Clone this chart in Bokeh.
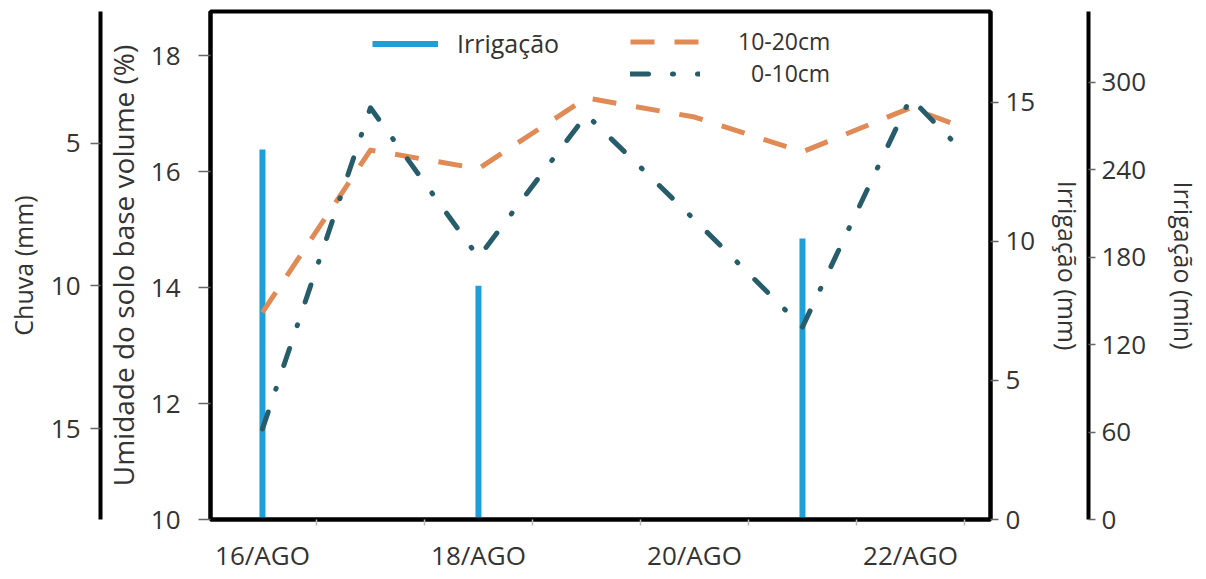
from bokeh.plotting import figure
from bokeh.models import Range1d, LinearAxis, FixedTicker, Legend, LegendItem, ColumnDataSource
from bokeh.embed import file_html
from bokeh.resources import INLINE

# ---- data ----
days = [16, 17, 18, 19, 20, 21, 22, 22.5]
umid_0_10 = [11.56, 17.10, 14.52, 16.98, 15.17, 13.32, 17.27, 16.32]
umid_10_20 = [13.57, 16.37, 16.05, 17.27, 16.94, 16.34, 17.10, 16.75]
irrig_days = [16, 18, 21]
irrig_mm = [13.3, 8.4, 10.1]
x_tick_days = [16, 18, 20, 22]
x_tick_labels = ["16/AGO", "18/AGO", "20/AGO", "22/AGO"]
x_minor_days = [16.5, 17.5, 18.5, 19.5, 20.5, 21.5, 22.5]
umid_ticks = [10, 12, 14, 16, 18]
chuva_ticks = [5, 10, 15]
mm_ticks = [0, 5, 10, 15]
min_ticks = [0, 60, 120, 180, 240, 300]

FONT = "Open Sans"
TXT = "#333333"

p = figure(width=1204, height=575, output_backend="svg", toolbar_location=None,
           x_range=Range1d(15.519, 22.741), y_range=Range1d(10, 18.76),
           min_border_left=210, min_border_right=214, min_border_top=11, min_border_bottom=54)
p.outline_line_color = "black"
p.outline_line_width = 4
p.outline_line_alpha = 1
p.grid.visible = False
p.background_fill_color = "white"
p.border_fill_color = "white"

p.extra_y_ranges = {
    "chuva": Range1d(18.17, 0.40),
    "mm": Range1d(0, 18.26),
    "min": Range1d(0, 348.5),
}


def style_axis(ax, tick_out=8, label_standoff=10, axis_standoff=10, label_size="25px"):
    ax.axis_line_color = "black"
    ax.axis_line_width = 4
    ax.major_tick_line_color = "#666666"
    ax.major_tick_line_width = 1.5
    ax.major_tick_in = 0
    ax.major_tick_out = tick_out
    ax.minor_tick_line_color = None
    ax.major_label_text_font = FONT
    ax.major_label_text_font_size = "26px"
    ax.major_label_text_color = TXT
    ax.major_label_standoff = label_standoff
    ax.axis_label_text_font = FONT
    ax.axis_label_text_font_size = label_size
    ax.axis_label_text_font_style = "normal"
    ax.axis_label_text_color = TXT
    ax.axis_label_standoff = axis_standoff


# x axis
xa = p.xaxis[0]
style_axis(xa, tick_out=0, label_standoff=11)
xa.ticker = FixedTicker(ticks=x_tick_days, minor_ticks=x_minor_days)
xa.major_label_overrides = {d: l for d, l in zip(x_tick_days, x_tick_labels)}
xa.major_tick_line_color = None
xa.minor_tick_line_color = "#bbbbbb"
xa.minor_tick_out = 6
xa.minor_tick_in = 0
xa.minor_tick_line_width = 1.5

# left: soil moisture
ya = p.yaxis[0]
style_axis(ya, tick_out=12, label_standoff=18, axis_standoff=6, label_size="28px")
ya.ticker = FixedTicker(ticks=umid_ticks)
ya.axis_label = "Umidade do solo base volume (%)"

# far left: rain
chuva_axis = LinearAxis(y_range_name="chuva", axis_label="Chuva (mm)")
style_axis(chuva_axis, tick_out=10, label_standoff=10, axis_standoff=8)
chuva_axis.ticker = FixedTicker(ticks=chuva_ticks)
p.add_layout(chuva_axis, "left")

# right: irrigation mm
mm_axis = LinearAxis(y_range_name="mm", axis_label="Irrigação (mm)")
style_axis(mm_axis, tick_out=8, label_standoff=7, axis_standoff=13)
mm_axis.ticker = FixedTicker(ticks=mm_ticks)
p.add_layout(mm_axis, "right")

# far right: irrigation minutes
min_axis = LinearAxis(y_range_name="min", axis_label="Irrigação (min)")
style_axis(min_axis, tick_out=7, label_standoff=6, axis_standoff=18)
min_axis.ticker = FixedTicker(ticks=min_ticks)
p.add_layout(min_axis, "right")

# irrigation bars
bars_src = ColumnDataSource(dict(x=irrig_days, top=irrig_mm, bottom=[0] * len(irrig_mm)))
bars = p.segment(x0="x", y0="bottom", x1="x", y1="top", source=bars_src,
                 y_range_name="mm", line_color="#1f9fd6", line_width=6)

src = ColumnDataSource(dict(day=days, a=umid_10_20, b=umid_0_10))
l1020 = p.line("day", "a", source=src, line_color="#e08a55", line_width=5,
               line_dash="24 20", line_join="round")
l010 = p.line("day", "b", source=src, line_color="#275c6b", line_width=5,
              line_dash="18 24 1 24", line_cap="round", line_join="round")

legends = [
    (Legend(items=[LegendItem(label="Irrigação", renderers=[bars])], location=(162, 459)), 66, 19, "25px"),
    (Legend(items=[LegendItem(label="10-20cm", renderers=[l1020])], location=(420, 462)), 70, 38, "23px"),
    (Legend(items=[LegendItem(label="0-10cm", renderers=[l010])], location=(420, 430)), 70, 51, "23px"),
]
for lg, gw, st, fs in legends:
    lg.glyph_width = gw
    lg.glyph_height = 25
    lg.label_height = 25
    lg.label_standoff = st
    lg.padding = 0
    lg.margin = 0
    lg.border_line_alpha = 0
    lg.background_fill_alpha = 0
    lg.label_text_font = FONT
    lg.label_text_font_size = fs
    lg.label_text_color = TXT
    p.add_layout(lg, "center")

open("out.html", "w").write(file_html(p, INLINE))
